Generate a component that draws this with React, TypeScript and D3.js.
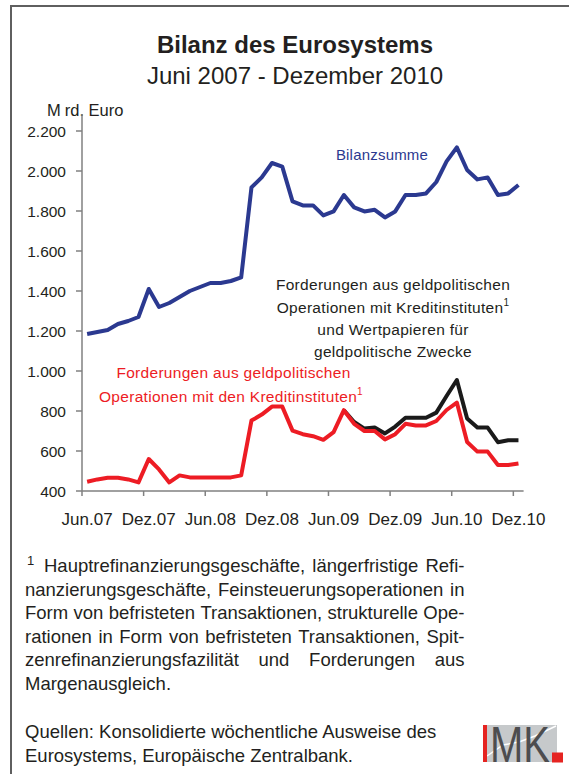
import React from "react";
import * as d3 from "d3";

const FONT = "'Liberation Sans', Arial, Helvetica, sans-serif";

// 43 monthly categories Jun 2007 .. Dec 2010
const months: Date[] = d3.timeMonth.range(new Date(2007, 5, 1), new Date(2011, 0, 1));

const bilanzsumme = [
  1185, 1195, 1205, 1235, 1250, 1270, 1410, 1320, 1340, 1370, 1400, 1420, 1440, 1440, 1450, 1468,
  1918, 1968, 2040, 2022, 1848, 1828, 1828, 1778, 1798, 1880, 1818, 1798, 1806, 1768, 1798, 1880,
  1880, 1888, 1945, 2048, 2118, 2005, 1958, 1968, 1880, 1888, 1930,
];

const forderungenKI = [
  446, 458, 466, 466, 458, 443, 560, 508, 443, 478, 468, 468, 468, 468, 468, 478,
  752, 782, 822, 822, 702, 684, 674, 656, 694, 804, 736, 700, 700, 658, 684, 736,
  728, 728, 750, 805, 842, 645, 597, 597, 530, 530, 538,
];

const forderungenKIWp: (number | null)[] = [
  null, null, null, null, null, null, null, null, null, null, null, null, null, null, null, null,
  null, null, null, null, null, null, null, null, null, 804, 745, 712, 718, 688, 722, 766,
  766, 766, 792, 875, 955, 763, 717, 717, 644, 654, 654,
];

const yTicks = [400, 600, 800, 1000, 1200, 1400, 1600, 1800, 2000, 2200];
const xTickLabels = ["Jun.07", "Dez.07", "Jun.08", "Dez.08", "Jun.09", "Dez.09", "Jun.10", "Dez.10"];

const footnoteLines = [
  "Hauptrefinanzierungsgeschäfte, längerfristige Refi-",
  "nanzierungsgeschäfte, Feinsteuerungsoperationen in",
  "Form von befristeten Transaktionen, strukturelle Ope-",
  "rationen in Form von befristeten Transaktionen, Spit-",
  "zenrefinanzierungsfazilität und Forderungen aus",
  "Margenausgleich.",
];
const sourceLines = [
  "Quellen: Konsolidierte wöchentliche Ausweise des",
  "Eurosystems, Europäische Zentralbank.",
];

const de = d3.formatLocale({ decimal: ",", thousands: ".", grouping: [3], currency: ["", " €"] });
const fmt = de.format(",d");

let ctx: CanvasRenderingContext2D | null = null;
function measure(text: string, font: string): number {
  if (!ctx) ctx = document.createElement("canvas").getContext("2d");
  if (!ctx) return text.length * 8;
  ctx.font = font;
  return ctx.measureText(text).width;
}

function Justified({ text, x0, x1, y, size }: { text: string; x0: number; x1: number; y: number; size: number }) {
  const font = `${size}px 'Liberation Sans'`;
  const words = text.split(" ");
  const widths = words.map((w) => measure(w, font));
  const total = widths.reduce((a, b) => a + b, 0);
  const gap = words.length > 1 ? (x1 - x0 - total) / (words.length - 1) : 0;
  let x = x0;
  return (
    <g>
      {words.map((w, i) => {
        const el = (
          <text key={i} x={x} y={y} fontSize={size} fontFamily={FONT} fill="#231f20">
            {w}
          </text>
        );
        x += widths[i] + gap;
        return el;
      })}
    </g>
  );
}

export default function App() {
  const W = 569;
  const H = 774;
  const x = d3.scaleBand<number>().domain(months.map((_, i) => i)).range([82, 523.6]).padding(0);
  const y = d3.scaleLinear().domain([400, 2200]).range([491, 131]);
  const cx = (i: number) => (x(i) as number) + x.bandwidth() / 2;

  const line = d3
    .line<number | null>()
    .defined((d) => d != null)
    .x((_, i) => cx(i))
    .y((d) => y(d as number));

  const tickIdx = months.map((_, i) => i).filter((i) => i % 6 === 0);
  const FS = 18.5;

  return (
    <svg width={W} height={H} style={{ position: "absolute", left: 0, top: 0, background: "#fff" }}>
      <rect x={0} y={0} width={W} height={H} fill="#fff" />
      {/* frame */}
      <path d={`M11,${H} V6 H${W}`} fill="none" stroke="#5f5f5f" strokeWidth={2} />

      {/* titles */}
      <text x={295} y={53} textAnchor="middle" fontSize={24} fontWeight="bold" fontFamily={FONT} fill="#231f20">
        Bilanz des Eurosystems
      </text>
      <text x={295} y={84} textAnchor="middle" fontSize={24} fontFamily={FONT} fill="#231f20">
        Juni 2007 - Dezember 2010
      </text>

      {/* y unit */}
      <text x={47} y={116} fontSize={16.5} fontFamily={FONT} fill="#231f20">
        <tspan>M</tspan>
        <tspan dx={4}>rd. Euro</tspan>
      </text>

      {/* y axis */}
      <line x1={82} x2={82} y1={114} y2={491} stroke="#808080" strokeWidth={1.5} />
      {yTicks.map((t) => (
        <g key={t}>
          <line x1={76} x2={82} y1={y(t)} y2={y(t)} stroke="#808080" strokeWidth={1.5} />
          <text x={66} y={y(t)} dy="0.36em" textAnchor="end" fontSize={15.5} fontFamily={FONT} fill="#231f20">
            {fmt(t)}
          </text>
        </g>
      ))}

      {/* x axis */}
      <line x1={82} x2={523.6} y1={491} y2={491} stroke="#808080" strokeWidth={1.5} />
      {tickIdx.map((i, k) => (
        <g key={i}>
          <line x1={x(i) as number} x2={x(i) as number} y1={491} y2={496} stroke="#808080" strokeWidth={1.5} />
          <text x={cx(i)} y={525} textAnchor="middle" fontSize={17} fontFamily={FONT} fill="#231f20">
            {xTickLabels[k]}
          </text>
        </g>
      ))}

      {/* series */}
      <path d={line(bilanzsumme) || ""} fill="none" stroke="#2b3990" strokeWidth={4} strokeLinejoin="round" />
      <path d={line(forderungenKIWp) || ""} fill="none" stroke="#1a1a1a" strokeWidth={4} strokeLinejoin="round" />
      <path d={line(forderungenKI) || ""} fill="none" stroke="#ed1c24" strokeWidth={4} strokeLinejoin="round" />

      {/* annotations */}
      <text x={382} y={160} textAnchor="middle" fontSize={15} letterSpacing={0.2} fontFamily={FONT} fill="#2b3990">
        Bilanzsumme
      </text>
      <g fontSize={15.5} letterSpacing={0.3} fontFamily={FONT} fill="#231f20" textAnchor="middle">
        <text x={393} y={290}>Forderungen aus geldpolitischen</text>
        <text x={393} y={312.5}>
          Operationen mit Kreditinstituten
          <tspan fontSize={10} dy={-7}>1</tspan>
        </text>
        <text x={393} y={335}>und Wertpapieren für</text>
        <text x={393} y={357}>geldpolitische Zwecke</text>
      </g>
      <g fontSize={15.5} letterSpacing={0.3} fontFamily={FONT} fill="#ed1c24" textAnchor="middle">
        <text x={233.5} y={377.5}>Forderungen aus geldpolitischen</text>
        <text x={231} y={401.5}>
          Operationen mit den Kreditinstituten
          <tspan fontSize={10} dy={-7}>1</tspan>
        </text>
      </g>

      {/* footnote */}
      <text x={27} y={565} fontSize={13} fontFamily={FONT} fill="#231f20">1</text>
      {footnoteLines.map((l, i) =>
        i < 5 ? (
          <Justified key={i} text={l} x0={i === 0 ? 44 : 25} x1={464.5} y={572 + i * 23.6} size={FS} />
        ) : (
          <text key={i} x={25} y={572 + i * 23.6} fontSize={FS} fontFamily={FONT} fill="#231f20">
            {l}
          </text>
        )
      )}
      {sourceLines.map((l, i) => (
        <text key={i} x={25} y={738 + i * 23.6} fontSize={FS} fontFamily={FONT} fill="#231f20">
          {l}
        </text>
      ))}

      {/* IMK logo */}
      <g>
        <rect x={483} y={725} width={74} height={37} fill="#c6c9cb" />
        <polyline points="487,756 503,745 519,742 535,736 556,726" fill="none" stroke="#fff" strokeWidth={1.5} />
        <rect x={483} y={725} width={4} height={37} fill="#e52421" />
        <text x={490} y={762} fontSize={50} fontFamily={FONT} fill="#4d4d4f" textLength={60} lengthAdjust="spacingAndGlyphs">
          MK
        </text>
        <rect x={552} y={752.5} width={11} height={10} fill="#e52421" />
      </g>
    </svg>
  );
}
